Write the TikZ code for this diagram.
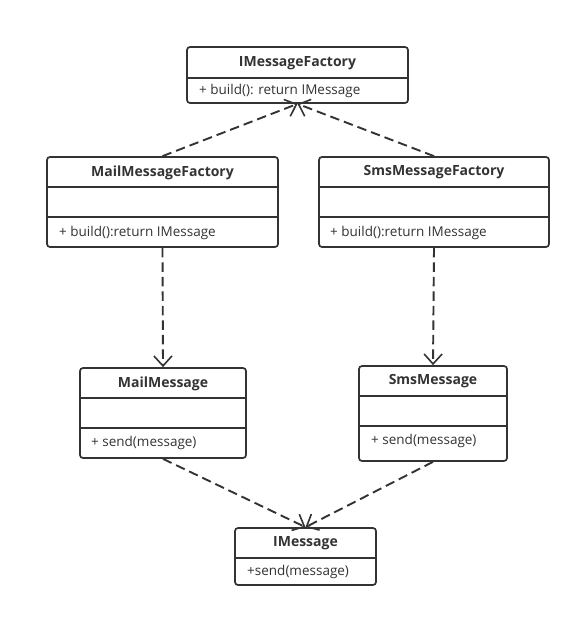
\documentclass[tikz,border=0pt]{standalone}
\usepackage{fontspec}
\setmainfont{Open Sans}
\usetikzlibrary{arrows.meta}
\definecolor{ink}{HTML}{333333}
\tikzset{
  umlbox/.style={draw=ink, line width=1.7pt, rounded corners=3pt, inner sep=0pt, fill=white},
  ttl/.style={font=\fontsize{14}{16}\selectfont\bfseries, text=ink, inner sep=0pt},
  mem/.style={font=\fontsize{13.5}{16}\selectfont, text=ink, inner sep=0pt, anchor=west},
  div/.style={draw=ink, line width=1.7pt},
  dep/.style={draw=ink, line width=1.9pt, dash pattern=on 9.5pt off 5pt, -{Straight Barb[length=10pt,width=18pt,line width=1.6pt]}}
}
\begin{document}
\begin{tikzpicture}[x=1pt,y=-1pt]
\useasboundingbox (0,0) rectangle (581,618);
% boxes
\node[umlbox, minimum width=221pt, minimum height=56pt] (imf) at (297.5,75) {};
\node[umlbox, minimum width=231pt, minimum height=90pt] (mmf) at (162.5,202) {};
\node[umlbox, minimum width=230pt, minimum height=90pt] (smf) at (434,202) {};
\node[umlbox, minimum width=166pt, minimum height=90pt] (mm) at (163,413) {};
\node[umlbox, minimum width=148pt, minimum height=95pt] (sm) at (433,413.5) {};
\node[umlbox, minimum width=141pt, minimum height=57pt] (im) at (305.5,556.5) {};
% dividers
\draw[div] (imf.west |- 0,78) -- (imf.east |- 0,78);
\draw[div] (mmf.west |- 0,187) -- (mmf.east |- 0,187);
\draw[div] (mmf.west |- 0,217) -- (mmf.east |- 0,217);
\draw[div] (smf.west |- 0,187) -- (smf.east |- 0,187);
\draw[div] (smf.west |- 0,217) -- (smf.east |- 0,217);
\draw[div] (mm.west |- 0,398) -- (mm.east |- 0,398);
\draw[div] (mm.west |- 0,428) -- (mm.east |- 0,428);
\draw[div] (sm.west |- 0,396) -- (sm.east |- 0,396);
\draw[div] (sm.west |- 0,426) -- (sm.east |- 0,426);
\draw[div] (im.west |- 0,558) -- (im.east |- 0,558);
% titles
\node[ttl] (imft) at (297.5,63) {IMessageFactory};
\node[ttl] (mmft) at (162.5,172.5) {MailMessageFactory};
\node[ttl] (smft) at (434,172.5) {SmsMessageFactory};
\node[ttl] (mmt) at (163,383.5) {MailMessage};
\node[ttl] (smt) at (433,381.5) {SmsMessage};
\node[ttl] (imt) at (305.5,543.5) {IMessage};
% members
\node[mem] (imfm) at (199,91) {+ build(): return IMessage};
\node[mem] (mmfm) at (59,232.5) {+ build():return IMessage};
\node[mem] (smfm) at (330,232.5) {+ build():return IMessage};
\node[mem] (mmm) at (91,443) {+ send(message)};
\node[mem] (smm) at (371,440.5) {+ send(message)};
\node[mem] (imm) at (247,572) {+send(message)};
% connectors
\draw[dep] (mmf.north) -- (imf.south);
\draw[dep] (smf.north) -- (imf.south);
\draw[dep] (mmf.south) -- (mm.north);
\draw[dep] (smf.south) -- (sm.north);
\draw[dep] (mm.south) -- (im.north);
\draw[dep] (sm.south) -- (im.north);
\end{tikzpicture}
\end{document}
